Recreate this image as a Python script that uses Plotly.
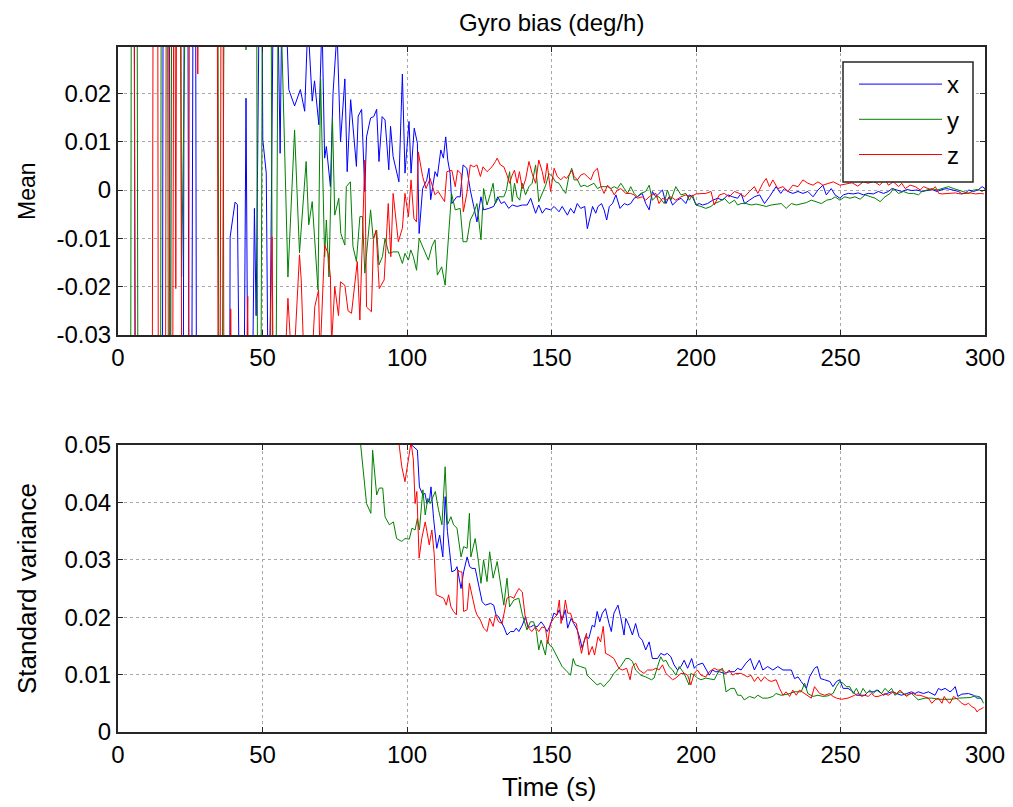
import plotly.graph_objects as go

# ---------------- data ----------------
time_ticks = [0, 50, 100, 150, 200, 250, 300]
mean_ticks = [-0.03, -0.02, -0.01, 0, 0.01, 0.02]
mean_tick_text = ["-0.03", "-0.02", "-0.01", "0", "0.01", "0.02"]
std_ticks = [0, 0.01, 0.02, 0.03, 0.04, 0.05]
std_tick_text = ["0", "0.01", "0.02", "0.03", "0.04", "0.05"]

series_names = ["x", "y", "z"]
series_colors = ["#0000FF", "#008000", "#FF0000"]

# Mean of gyro bias, x axis: (time s, value deg/h)
mean_x = [
    (1, 0.5), (3, 0.3), (5, 0.2), (7, -0.3), (9, -0.4), (11, -0.3), (13, -0.25), (15, -0.2),
    (16, 0.2), (17.5, 0.15), (18.5, -0.2), (20, -0.15), (22, -0.2), (23.5, 0.2), (25, -0.15),
    (26.5, 0.15), (27.5, -0.15), (30, -0.2), (32, -0.15), (34, -0.2), (36, -0.15), (38.3, -0.12),
    (38.8, -0.0097), (40.5, -0.0025), (41.3, -0.003), (43, -0.1), (44.3, 0.019), (45.5, -0.1),
    (47.2, -0.0038), (47.8, -0.026), (49.5, 0.08), (50.1, 0.0104), (51.3, 0.0035), (52.2, -0.06),
    (54, 0.06), (55, 0.05), (56.1, 0.0076), (56.8, 0.045), (58, 0.04), (59.1, 0.0208),
    (61.1, 0.0174), (63.1, 0.0208), (64.6, 0.0163), (65.7, 0.035), (67.2, 0.0184), (68, 0.0226),
    (69.5, 0.0135), (70.6, 0.035), (71.5, 0.0066), (72.1, 0.009), (73.5, 0.0007), (74.4, 0.02),
    (75.8, 0.033), (77, 0.01), (78.5, 0.023), (79.3, 0.0038), (80.5, 0.0187), (82.5, 0.0049),
    (83.1, 0.0153), (84.3, 0.0167), (85.4, -0.0003), (86, 0.011), (87.4, 0.0149), (88.5, 0.0152),
    (89.5, 0.0167), (90.3, 0.0059), (91.4, 0.0152), (92.4, 0.0145), (93.7, 0.0042), (94.3, 0.0132),
    (95.2, 0.0069), (97.2, 0.0017), (98.4, 0.024), (99.3, 0.0035), (100.7, 0.0142), (101.4, 0.0035),
    (102.5, 0.0128), (103.6, 0.0097), (104.2, -0.009), (105.4, 0.0003), (106.8, 0.002),
    (107.6, 0.0045), (108.2, -0.002), (109.7, 0.0038), (110.5, 0.0028), (111.7, 0.0083),
    (112.6, 0.0066), (113.4, 0.011), (114.1, 0.0062), (114.9, 0.0035), (115.5, -0.0028),
    (117.2, -0.0014), (118.4, -0.0014), (119.4, 0.0052), (120.7, 0.0045), (121.9, 0.0),
    (123.1, -0.0034), (124.2, -0.0066), (125.6, -0.0014), (126.5, -0.0041), (128.3, -0.0038),
    (130, -0.0034), (131.4, -0.0014), (132.6, -0.0028), (133.7, -0.0024), (135.2, -0.0038),
    (136.4, -0.0031), (138.1, -0.0034), (139.9, -0.0031), (141.6, -0.0031), (142.8, -0.0017),
    (144.5, -0.0048), (145.6, -0.0031), (146.8, -0.0048), (148, -0.0038), (149.7, -0.0041),
    (150.9, -0.0034), (152.6, -0.0045), (153.7, -0.0034), (155.5, -0.0052), (156.6, -0.0038),
    (157.8, -0.0048), (158.9, -0.0028), (160.1, -0.0038), (161.5, -0.0034), (162.4, -0.008),
    (164.2, -0.0034), (165.3, -0.0048), (166.1, -0.0034), (167.3, -0.0028), (168.2, -0.0041),
    (169.1, -0.0062), (170, -0.0034), (171.1, -0.0028), (172.3, -0.001), (173.7, -0.0038),
    (175.2, -0.0028), (176.3, -0.0031), (177.4, -0.0028), (178.6, -0.0017), (179.7, -0.0014),
    (181.4, -0.0007), (182.6, -0.0028), (183.8, -0.0041), (184.9, -0.0003), (186.1, -0.0014),
    (187.2, -0.0007), (188.4, 0.0), (189.6, -0.0028), (190.7, -0.0014), (191.9, -0.0031),
    (193.6, -0.0021), (194.8, -0.0017), (196.5, -0.0028), (197.7, -0.001), (198.8, -0.0014),
    (200, -0.0031), (201.1, -0.0028), (202.3, -0.0031), (204, -0.0028), (205.8, -0.0021),
    (207.5, -0.0017), (209.2, -0.0021), (211, -0.001), (212.7, -0.0014), (214.4, -0.0017),
    (215.6, -0.0007), (216.8, -0.0028), (218.5, -0.0021), (220.2, -0.0014), (222, -0.001),
    (223.7, -0.0028), (225.4, -0.0014), (226.6, -0.0003), (227.7, 0.0007), (229.3, -0.0007),
    (230.6, 0.0003), (231.8, -0.0003), (233.5, -0.0007), (235.3, -0.0003), (237, -0.0007),
    (238.7, -0.0003), (240.5, -0.0014), (242.2, 0.0), (243.9, 0.001), (245.1, -0.001),
    (246.8, 0.0003), (248.1, -0.001), (249.8, -0.0017), (251, -0.001), (252.7, -0.0007),
    (254.4, -0.0008), (256.2, -0.0006), (257.9, -0.001), (259.6, -0.0007), (261.4, -0.0008),
    (263.1, -0.0003), (264.9, -0.0007), (266.6, -0.0003), (267.8, 0.0003), (269.5, 0.0),
    (271.2, -0.0003), (273, 0.0001), (274.7, -0.0001), (276.4, 0.0), (278.2, -0.0003),
    (279.9, -0.0001), (281.6, 0.0001), (283.4, -0.0003), (285.1, 0.0001), (286.8, 0.0003),
    (288.6, 0.0), (290.9, -0.0003), (292, -0.0008), (293.2, -0.0006), (294.4, 0.0),
    (296.1, -0.0003), (297.8, 0.0001), (299, 0.0007), (300, 0.0003),
]

mean_y = [
    (1, -0.5), (2.5, -0.3), (4, -0.2), (5, 0.2), (6.3, 0.15), (7.5, -0.25), (9, -0.3), (11, -0.25),
    (13, -0.2), (14.5, -0.15), (15.3, 0.2), (16.8, 0.15), (17.8, -0.15), (19, 0.15), (21, 0.12),
    (22, -0.018), (23, 0.15), (25, 0.2), (28, 0.25), (31, 0.2), (34, 0.2), (35.3, -0.15),
    (36.5, 0.0006), (37.5, 0.15), (40, 0.2), (42.5, 0.12), (44.3, 0.029), (46, 0.12), (47.8, 0.1),
    (48.4, -0.08), (49.3, -0.07), (50.2, 0.08), (51.5, 0.09), (52.8, 0.07), (53.6, -0.06),
    (54.6, -0.05), (55.5, 0.05), (56.5, 0.035), (58.8, -0.018), (61.1, 0.0124), (62.8, -0.013),
    (65.1, 0.0059), (66, -0.0072), (67.2, -0.0024), (69.2, -0.0207), (70.1, 0.023),
    (71.5, -0.0138), (72.1, -0.0062), (73, -0.018), (74.2, 0.0148), (75, -0.0052), (76.4, -0.0017),
    (77.1, -0.009), (78.5, -0.0114), (79, 0.0007), (80.4, 0.0017), (81.3, -0.0117), (82.5, -0.0148),
    (83.7, -0.0055), (84.6, -0.0055), (85.4, -0.0172), (86.5, -0.01), (87.4, -0.0041),
    (88.3, -0.01), (89.5, -0.0083), (90.3, -0.0155), (91.5, -0.0138), (92.4, -0.01),
    (93.7, -0.0131), (95.2, -0.0128), (97, -0.0128), (98.4, -0.0152), (99.3, -0.0131),
    (100.5, -0.0145), (101.3, -0.0124), (102.2, -0.0138), (103.3, -0.0166), (104.2, -0.01),
    (105.7, -0.0121), (107.4, -0.0145), (108.6, -0.0117), (109.7, -0.0103), (110.5, -0.0176),
    (112, -0.0159), (113.2, -0.0197), (115.4, -0.0007), (116.7, -0.0041), (118.4, -0.0038),
    (119.4, -0.0107), (120.7, -0.0107), (121.9, -0.0062), (123.1, -0.0048), (124.2, -0.0028),
    (125.6, -0.0103), (126.5, 0.0003), (127.7, -0.0031), (128.9, -0.0007), (129.8, 0.0014),
    (130.6, -0.0028), (131.8, -0.0014), (133.5, -0.0014), (134.4, 0.0), (135.5, 0.0038),
    (136.4, -0.0024), (137.2, 0.0014), (138.1, -0.0014), (139, -0.0021), (139.9, 0.0014),
    (141, -0.001), (142.2, 0.0007), (143.3, 0.0014), (144.5, 0.0052), (145.6, -0.0024),
    (146.8, -0.0007), (148, 0.001), (149.1, 0.0034), (150.3, 0.0028), (151.4, 0.0017),
    (152.6, 0.0014), (153.7, 0.0003), (154.9, -0.0007), (156, 0.0028), (157, 0.0045),
    (157.8, 0.0021), (159, 0.0021), (160.1, 0.0007), (161.3, 0.001), (162.4, 0.0007),
    (163.6, 0.001), (164.7, 0.0014), (165.9, 0.0003), (167.1, 0.0007), (168.2, 0.0007),
    (169.4, 0.0007), (170.5, 0.0003), (171.7, 0.0007), (172.8, 0.0003), (174, 0.0014),
    (175.2, 0.0003), (176.3, -0.0007), (177.4, 0.0007), (178.6, -0.0007), (179.7, -0.0014),
    (180.9, -0.0007), (182.6, -0.0003), (183.8, 0.001), (184.9, -0.0021), (186.1, -0.0014),
    (187.2, -0.0014), (189, -0.0028), (190.1, 0.0), (191.3, -0.0021), (193, 0.0007),
    (194.8, -0.001), (196.5, -0.0007), (197.7, -0.0021), (198.8, -0.001), (200, -0.0031),
    (201.7, -0.0034), (203.4, -0.0038), (205.2, -0.0034), (206.3, -0.0028), (208.1, -0.0024),
    (209.8, -0.0017), (211.5, -0.0028), (213.3, -0.0021), (214.4, -0.0031), (215.6, -0.0028),
    (217.3, -0.0028), (219.1, -0.0031), (220.8, -0.0029), (222.6, -0.0031), (224.3, -0.0034),
    (226, -0.0031), (227.7, -0.0029), (229.5, -0.0028), (231.2, -0.0038), (233, -0.0028),
    (234.7, -0.0031), (236.4, -0.0028), (238.2, -0.0026), (239.9, -0.0021), (241.6, -0.0024),
    (243.4, -0.0028), (245.2, -0.0021), (246.9, -0.0019), (248.1, -0.0014), (249.8, -0.0021),
    (251.5, -0.0014), (253.3, -0.0017), (255, -0.0014), (256.8, -0.0019), (258.5, -0.001),
    (260.2, -0.0014), (262, -0.0017), (263.7, -0.0024), (265.4, -0.0014), (267.2, -0.0007),
    (268.3, 0.0003), (270.1, -0.0007), (271.8, -0.0003), (273.5, -0.0007), (275.3, -0.0007),
    (277, -0.001), (278.2, -0.0003), (279.9, 0.0), (281.6, 0.0003), (283.4, 0.0),
    (285.1, 0.0003), (287.4, 0.0007), (289.2, 0.0003), (290.9, 0.0), (292.6, -0.0003),
    (294.4, -0.0007), (296.1, 0.0), (297.8, 0.0001), (299, -0.0003), (300, 0.0001),
]

mean_z = [
    (1, 0.5), (3, 0.3), (5, 0.2), (6.5, -0.2), (8, -0.3), (10, -0.25), (11.5, -0.15), (12.5, 0.15),
    (13.5, 0.15), (14.2, -0.15), (16, -0.2), (17, 0.15), (18.5, -0.15), (19.5, 0.1), (20, -0.0204),
    (20.5, 0.1), (21.5, 0.15), (22.3, -0.15), (24, -0.2), (25, 0.15), (26.5, 0.2), (27.6, 0.024),
    (28.5, 0.2), (30, 0.25), (32, 0.2), (34, 0.15), (35, -0.15), (36, 0.15), (37, -0.15),
    (38, -0.1), (39, -0.0246), (39.7, -0.1), (41, -0.15), (43, -0.1), (44.9, -0.022),
    (45.5, -0.1), (47, -0.12), (49, -0.1), (51, -0.08), (53.3, -0.0097), (54, -0.06),
    (56, -0.06), (58.8, -0.0224), (60.5, -0.04), (62.8, -0.0134), (63.4, -0.0186), (64.6, -0.04),
    (66.7, -0.04), (68.1, -0.0241), (69.4, -0.0207), (69.9, -0.035), (71.5, -0.0114),
    (72.7, -0.0131), (73.5, -0.018), (73.9, -0.032), (75, -0.02), (76.3, -0.026), (77, -0.019),
    (78.5, -0.0197), (79.6, -0.025), (80.8, -0.0255), (82.8, -0.0148), (83.7, -0.0269),
    (85.4, 0.0062), (86, -0.0242), (87.7, -0.0252), (88.4, -0.0103), (89.3, -0.0083),
    (90.4, -0.0204), (92.1, -0.0186), (93.5, -0.0028), (94.4, -0.0138), (95.2, -0.0007),
    (97, -0.0107), (98.4, -0.0079), (99.3, -0.0007), (100.5, -0.0055), (101.4, 0.0021),
    (102.4, -0.0059), (103.3, -0.0066), (103.9, 0.0079), (105.4, 0.0028), (106.6, 0.0003),
    (108, 0.0024), (109.7, -0.001), (110.8, -0.0003), (111.9, -0.0014), (113, -0.0024),
    (113.8, 0.0038), (115.5, 0.0041), (116.7, 0.0007), (117.5, 0.0041), (118.7, 0.0034),
    (119.5, -0.0045), (120.7, -0.0007), (121.9, 0.0052), (123.1, 0.0048), (124.2, 0.0052),
    (125.4, 0.0028), (126.3, 0.0048), (127.7, 0.0038), (129.4, 0.0048), (130.6, 0.0059),
    (131.2, 0.0066), (132.3, 0.0052), (133.5, 0.0048), (134.6, 0.0031), (135.5, 0.0014),
    (136.4, 0.0031), (137.2, 0.0041), (138.1, 0.0014), (138.9, 0.0038), (139.9, 0.0003),
    (141, 0.0021), (142.2, 0.0059), (143.3, 0.0034), (144.5, 0.0014), (145.6, 0.0062),
    (146.8, 0.0038), (147.6, 0.0014), (148.5, 0.0055), (149.7, -0.0003), (150.9, 0.0045),
    (152, 0.0028), (153.2, 0.0021), (154.3, 0.0028), (155.2, 0.0024), (156, 0.0031),
    (157.2, 0.0041), (157.8, 0.0028), (159, 0.0021), (160.1, 0.0031), (161.3, 0.0034),
    (162.4, 0.0028), (163.6, 0.0021), (164.7, 0.0038), (165.9, 0.0045), (167.1, 0.0007),
    (168.2, -0.0007), (169.4, 0.001), (170.5, 0.0003), (171.7, -0.001), (172.8, 0.0),
    (174, 0.0003), (175.7, -0.0007), (177.4, -0.0007), (178.6, -0.001), (179.7, -0.0017),
    (181.4, -0.0014), (182.6, -0.0021), (183.8, -0.0014), (184.9, -0.001), (186.1, -0.0007),
    (187.2, -0.0028), (188.4, -0.0017), (189.6, -0.0021), (191.3, -0.0014), (193, -0.0021),
    (194.8, -0.0014), (196.5, -0.001), (198.2, -0.0014), (200, -0.0008), (201.7, -0.0008),
    (203.4, -0.0007), (205.2, -0.0003), (206.3, -0.0031), (208.1, -0.001), (209.8, -0.0007),
    (211.5, -0.0014), (213.3, -0.0003), (215, -0.0007), (216.8, -0.0014), (218.5, -0.0003),
    (220.2, 0.0007), (221.4, -0.0007), (223.1, 0.0014), (224.3, 0.0024), (225.4, 0.0007),
    (226.6, 0.0021), (228.3, 0.0003), (230.1, 0.0007), (231.8, -0.0003), (233.5, 0.001),
    (235.3, 0.0007), (237, 0.0021), (238.7, 0.0014), (240.5, 0.001), (242.2, 0.0017),
    (243.9, 0.001), (245.7, 0.0014), (247.5, 0.0017), (249.8, 0.001), (252, 0.0012),
    (254, 0.0015), (256, 0.0008), (257.9, 0.0017), (259.6, 0.0014), (261.5, 0.0018),
    (263.5, 0.001), (265.4, 0.0021), (266.6, 0.001), (268.3, 0.0017), (270.1, 0.0007),
    (271.2, 0.0014), (272.4, 0.0003), (274.1, 0.001), (275.9, 0.0007), (277.6, 0.0),
    (278.7, 0.0007), (280.5, 0.0003), (281.6, 0.0), (282.8, 0.0007), (284, -0.0007),
    (285.1, -0.0008), (287.4, -0.0007), (289.7, -0.0006), (291.5, -0.0008), (293.2, -0.0007),
    (294.9, -0.0006), (296.7, -0.0008), (298.4, -0.0007), (299.6, -0.0008),
]

# Standard deviation of gyro bias
std_x = [
    (90, 0.08), (99.3, 0.051), (100.5, 0.0505), (102.2, 0.0497), (103.6, 0.0491), (104.3, 0.0427),
    (105.5, 0.0413), (106.2, 0.0416), (106.9, 0.0398), (107.8, 0.0404), (108.3, 0.0427),
    (109.2, 0.0372), (110.3, 0.032), (111.3, 0.0343), (112.4, 0.0305), (113.2, 0.041),
    (114, 0.0349), (115.5, 0.0279), (116.7, 0.0282), (117.3, 0.0288), (118.7, 0.025),
    (119.6, 0.0279), (120.8, 0.0305), (121.7, 0.0288), (122.5, 0.0285), (123.6, 0.0285),
    (124.8, 0.0253), (126, 0.0227), (127.1, 0.0221), (128.9, 0.0224), (130, 0.0221),
    (130.8, 0.0204), (131.7, 0.0201), (132.9, 0.0189), (133.5, 0.0183), (134.6, 0.0169),
    (135.8, 0.0175), (137, 0.0175), (137.8, 0.0181), (138.7, 0.0175), (139.9, 0.0186),
    (141, 0.0201), (141.8, 0.0183), (142.7, 0.0183), (143.8, 0.0186), (145, 0.0183),
    (146.4, 0.0192), (147.3, 0.0186), (148.5, 0.0175), (149.6, 0.0186), (150.8, 0.0207),
    (151.9, 0.0204), (152.7, 0.0213), (153.7, 0.0195), (154.8, 0.0213), (155.6, 0.0181),
    (156.8, 0.0198), (157.7, 0.0189), (158.9, 0.0178), (160, 0.016), (160.6, 0.0146),
    (161.8, 0.0166), (162.9, 0.0163), (164.1, 0.0186), (164.9, 0.0183), (165.8, 0.021),
    (166.7, 0.0192), (167.6, 0.0207), (168.7, 0.0215), (169.9, 0.0189), (170.7, 0.0175),
    (171.6, 0.0207), (173, 0.0221), (173.9, 0.0201), (175.1, 0.0169), (175.7, 0.0198),
    (176.8, 0.0186), (178, 0.0169), (179.1, 0.0189), (180.3, 0.0166), (181.4, 0.016),
    (182.6, 0.0143), (183.8, 0.0157), (184.9, 0.0128), (186.7, 0.0128), (187.8, 0.0137),
    (189, 0.0134), (190.1, 0.0137), (191.3, 0.0131), (192.4, 0.0117), (193.6, 0.0108),
    (194.8, 0.0114), (195.9, 0.0125), (197.1, 0.0111), (198.5, 0.0128), (199.4, 0.0111),
    (200.5, 0.0117), (202.3, 0.012), (203.4, 0.0111), (204.6, 0.0099), (205.7, 0.0108),
    (206.8, 0.0105), (208.1, 0.0105), (209.8, 0.0102), (211.5, 0.0105), (213.3, 0.0105),
    (214.4, 0.0111), (215.6, 0.0108), (217.3, 0.012), (218.8, 0.0128), (220.2, 0.0108),
    (221.9, 0.0125), (223.1, 0.0108), (224.8, 0.0114), (226.6, 0.0108), (228.3, 0.0114),
    (230.1, 0.0108), (231.8, 0.0108), (233, 0.0108), (234.1, 0.0093), (235.3, 0.0096),
    (236.4, 0.0088), (238.2, 0.0076), (239.3, 0.0096), (241, 0.0111), (242, 0.0114),
    (243.1, 0.0093), (244.5, 0.0091), (246.3, 0.0088), (247.4, 0.0079), (248.6, 0.0088),
    (249.7, 0.0091), (250.9, 0.0076), (252.6, 0.0076), (254.4, 0.007), (255.5, 0.0064),
    (256.7, 0.0064), (258.4, 0.0064), (259.6, 0.007), (261.3, 0.007), (263, 0.0073),
    (264.8, 0.0064), (266, 0.0067), (267.7, 0.007), (269.4, 0.0067), (271.1, 0.0064),
    (272.9, 0.0067), (274.6, 0.007), (275.8, 0.0067), (276.9, 0.007), (278.7, 0.0067),
    (280.4, 0.007), (282.7, 0.0064), (283.9, 0.0076), (284.8, 0.0073), (286.2, 0.0076),
    (287.9, 0.007), (288.7, 0.0073), (289.7, 0.0079), (290.6, 0.0062), (292, 0.0066),
    (294.3, 0.0067), (296, 0.0064), (297.2, 0.0059), (298.3, 0.0059), (299.1, 0.0056),
]

std_y = [
    (80, 0.07), (85.5, 0.0427), (86, 0.0398), (87.5, 0.0381), (88.1, 0.0491), (89.5, 0.0413),
    (90.4, 0.0425), (91.6, 0.0425), (92.4, 0.0375), (93.9, 0.0361), (95.3, 0.0366),
    (96.4, 0.0337), (98.2, 0.0332), (99.3, 0.0337), (100.8, 0.0336), (101.7, 0.0355),
    (102.8, 0.0352), (103.6, 0.0372), (104.3, 0.0352), (105.5, 0.0422), (106.3, 0.0378),
    (107.2, 0.0407), (108, 0.0398), (109.8, 0.0419), (110.9, 0.0387), (112.1, 0.0361),
    (113.2, 0.0462), (114, 0.0361), (115.2, 0.0375), (116.1, 0.0361), (117.3, 0.0355),
    (118.7, 0.0305), (119.6, 0.0323), (120.8, 0.032), (121.6, 0.0381), (122.1, 0.0305),
    (123.6, 0.0337), (124.8, 0.0294), (125.6, 0.0259), (126.5, 0.03), (127.7, 0.0262),
    (128.6, 0.0314), (129.8, 0.0268), (131.2, 0.0297), (132.3, 0.0259), (133.5, 0.0221),
    (134.6, 0.0268), (135.5, 0.0218), (137, 0.023), (138.7, 0.0233), (139.9, 0.0205),
    (141.5, 0.0178), (142.7, 0.0192), (143.8, 0.0192), (144.8, 0.0175), (145.6, 0.0143),
    (146.4, 0.016), (147.1, 0.0149), (147.9, 0.0134), (148.5, 0.016), (149.4, 0.0151),
    (150.2, 0.0148), (151.4, 0.0137), (152.5, 0.0125), (153.7, 0.0114), (155.4, 0.0105),
    (156.6, 0.0099), (157.5, 0.0128), (158.3, 0.0117), (160, 0.0114), (161.8, 0.0111),
    (162.3, 0.0099), (164.1, 0.0091), (165.8, 0.0082), (167, 0.0085), (168.1, 0.0079),
    (169.1, 0.0085), (170.2, 0.0091), (171.6, 0.0102), (172.8, 0.0108), (173.9, 0.0114),
    (175.7, 0.0128), (176.8, 0.0128), (178, 0.0123), (179.1, 0.0108), (180.9, 0.0099),
    (182.6, 0.0096), (184.6, 0.0091), (185.5, 0.0094), (186.7, 0.0114), (187.8, 0.0131),
    (188.7, 0.0123), (189.6, 0.0125), (190.7, 0.0114), (191.9, 0.0108), (193, 0.0099),
    (194.2, 0.0114), (195.9, 0.0102), (197.6, 0.0082), (198.2, 0.0102), (199.4, 0.0099),
    (200.5, 0.0094), (201.7, 0.0091), (203.4, 0.0094), (204.6, 0.0093), (206.3, 0.0091),
    (208.1, 0.0108), (209.2, 0.0111), (210.4, 0.007), (212.1, 0.0076), (213.3, 0.0076),
    (214.4, 0.0064), (215.6, 0.0064), (216.7, 0.0056), (218.5, 0.0062), (220.2, 0.0059),
    (221.4, 0.0064), (223.1, 0.0059), (224.8, 0.0059), (226.6, 0.0062), (227.7, 0.0067),
    (229.5, 0.0064), (231.8, 0.0066), (234.1, 0.007), (236.4, 0.007), (237.6, 0.0085),
    (238.7, 0.0067), (240.5, 0.0062), (242.2, 0.0064), (243.9, 0.0062), (245.7, 0.0063),
    (247.4, 0.0067), (248.6, 0.0079), (249.7, 0.0088), (250.9, 0.0085), (252, 0.0079),
    (253.2, 0.0079), (254.4, 0.0067), (255.5, 0.0076), (256.7, 0.0064), (257.8, 0.0076),
    (259, 0.0067), (260.1, 0.0073), (261.3, 0.0067), (262.5, 0.0073), (264.2, 0.0067),
    (265.4, 0.0076), (266.5, 0.007), (267.7, 0.0076), (268.8, 0.0064), (270.6, 0.007),
    (271.7, 0.0067), (272.9, 0.0064), (274.6, 0.0067), (276.9, 0.0056), (279.2, 0.0059),
    (281.6, 0.0059), (283.9, 0.0057), (286.2, 0.0057), (288.5, 0.0057), (290.8, 0.0059),
    (293.1, 0.0059), (294.9, 0.006), (296.6, 0.0063), (298.3, 0.0061), (298.9, 0.0056),
    (299.5, 0.005),
]

std_z = [
    (90, 0.08), (97, 0.0505), (98.2, 0.0462), (99.3, 0.0436), (100.5, 0.0474), (101.4, 0.0505),
    (102.2, 0.0474), (102.8, 0.0398), (103.4, 0.0419), (104.2, 0.0303), (105.1, 0.0337),
    (106.3, 0.0366), (106.9, 0.0349), (107.7, 0.0326), (108.6, 0.0352), (109.4, 0.0311),
    (110.1, 0.0239), (111.5, 0.0236), (112.7, 0.0233), (113.6, 0.0221), (114.4, 0.0239),
    (115.2, 0.0218), (116.1, 0.021), (117.1, 0.0204), (117.6, 0.0282), (118.4, 0.0279),
    (119, 0.0279), (119.6, 0.021), (120.8, 0.0213), (121.6, 0.0259), (122.5, 0.0236),
    (123.6, 0.0213), (124.2, 0.0204), (125.4, 0.0195), (126.5, 0.0181), (127.7, 0.0175),
    (128.6, 0.0198), (129.8, 0.0184), (130.6, 0.0204), (131.7, 0.0192), (132.9, 0.0189),
    (133.7, 0.0207), (134.6, 0.0233), (135.8, 0.0236), (137, 0.0233), (137.5, 0.0239),
    (138.7, 0.025), (139.9, 0.0244), (140.9, 0.0201), (142.1, 0.0181), (143.2, 0.0175),
    (144.4, 0.0183), (145.6, 0.0175), (146.7, 0.0183), (147.9, 0.0181), (148.7, 0.0154),
    (149.6, 0.0189), (150.8, 0.0198), (151.9, 0.0204), (152.7, 0.023), (153.3, 0.0189),
    (154.2, 0.0207), (154.8, 0.023), (155.6, 0.0207), (156.6, 0.0207), (157.5, 0.0192),
    (158.6, 0.0189), (159.5, 0.016), (160.4, 0.0137), (161.2, 0.0157), (162.1, 0.0172),
    (162.9, 0.0134), (164.1, 0.0149), (164.9, 0.0134), (166.1, 0.0166), (167, 0.0157),
    (167.9, 0.0184), (168.7, 0.0137), (169.9, 0.0134), (171.6, 0.0128), (173.3, 0.0111),
    (174.5, 0.0108), (176, 0.0111), (177.2, 0.0091), (178, 0.0114), (179.1, 0.012),
    (180.3, 0.0108), (182, 0.0102), (183.2, 0.0108), (184.9, 0.0108), (186.1, 0.0111),
    (187.2, 0.0108), (188.4, 0.0117), (189.6, 0.0102), (190.7, 0.0096), (191.9, 0.0091),
    (193, 0.0094), (194.8, 0.0102), (196, 0.0102), (197.1, 0.0099), (198.2, 0.0082),
    (199.4, 0.0102), (200.5, 0.0108), (201.7, 0.0099), (203.4, 0.0096), (204.6, 0.0105),
    (206.3, 0.0111), (207.5, 0.0108), (209.2, 0.0108), (210.4, 0.0102), (211.5, 0.0108),
    (212.7, 0.0099), (213.8, 0.0102), (215.6, 0.0102), (216.7, 0.0099), (217.9, 0.0096),
    (219, 0.0099), (220.2, 0.0088), (221.4, 0.0096), (222.5, 0.0088), (223.7, 0.0096),
    (224.8, 0.0091), (226, 0.0088), (227.7, 0.0091), (228.9, 0.0076), (230.1, 0.0064),
    (231.2, 0.007), (232.4, 0.0062), (233.5, 0.0073), (234.7, 0.0064), (235.8, 0.0073),
    (237.6, 0.0067), (238.7, 0.0064), (239.9, 0.0059), (241, 0.0079), (242.8, 0.0067),
    (244.5, 0.0064), (246.3, 0.0067), (247.4, 0.0062), (248.6, 0.0059), (250.3, 0.0057),
    (252.6, 0.0059), (254.9, 0.0064), (256.1, 0.0067), (257.3, 0.0062), (258.4, 0.0064),
    (259.6, 0.0062), (260.7, 0.0067), (261.9, 0.0062), (263, 0.0062), (264.2, 0.0064),
    (265.4, 0.0067), (266.5, 0.0064), (268.3, 0.007), (269.4, 0.0067), (270.6, 0.0073),
    (271.7, 0.0067), (272.9, 0.0062), (274, 0.0067), (275.2, 0.0067), (276.3, 0.0064),
    (277.5, 0.0064), (278.7, 0.0062), (280.4, 0.0059), (281.6, 0.005), (282.7, 0.0056),
    (283.9, 0.0059), (285.1, 0.005), (285.9, 0.0062), (287.1, 0.0053), (287.9, 0.005),
    (289.1, 0.0062), (290.8, 0.0056), (292, 0.005), (293.1, 0.0047), (294.3, 0.005),
    (295.5, 0.0044), (296.6, 0.0041), (297.2, 0.0035), (297.8, 0.0038), (298.9, 0.0041),
    (299.5, 0.0043),
]

# ---------------- figure ----------------
FONT = "Arial, Liberation Sans, Helvetica, sans-serif"
W, H = 1013, 807
fig = go.Figure()

mean_series = [mean_x, mean_y, mean_z]
std_series = [std_x, std_y, std_z]

for name, color, pts in zip(series_names, series_colors, mean_series):
    fig.add_trace(go.Scatter(
        x=[p[0] for p in pts], y=[p[1] for p in pts], mode="lines", name=name,
        line=dict(color=color, width=1), xaxis="x", yaxis="y",
        legendgroup=name, showlegend=True))

for name, color, pts in zip(series_names, series_colors, std_series):
    fig.add_trace(go.Scatter(
        x=[p[0] for p in pts], y=[p[1] for p in pts], mode="lines", name=name,
        line=dict(color=color, width=1), xaxis="x2", yaxis="y2",
        legendgroup=name, showlegend=False))

axis_common = dict(
    showline=True, linecolor="#262626", linewidth=2, mirror="ticks",
    ticks="inside", ticklen=5, tickcolor="#262626", tickwidth=1,
    showgrid=True, gridcolor="#a8a8a8", griddash="dot", gridwidth=1,
    zeroline=False, automargin=False,
    tickfont=dict(family=FONT, size=24, color="black"),
)

x_dom = [118 / W, 985 / W]
fig.update_layout(
    width=W, height=H, margin=dict(l=0, r=0, t=0, b=0, autoexpand=False),
    paper_bgcolor="white", plot_bgcolor="white",
    font=dict(family=FONT, color="black"),
    xaxis=dict(domain=x_dom, anchor="y", range=[0, 300], tickvals=time_ticks,
               ticktext=[str(v) for v in time_ticks], **axis_common),
    yaxis=dict(domain=[1 - 335 / H, 1 - 47 / H], anchor="x", range=[-0.03, 0.0296],
               tickvals=mean_ticks, ticktext=mean_tick_text, **axis_common),
    xaxis2=dict(domain=x_dom, anchor="y2", range=[0, 300], tickvals=time_ticks,
                ticktext=[str(v) for v in time_ticks], **axis_common),
    yaxis2=dict(domain=[1 - 732 / H, 1 - 445 / H], anchor="x2", range=[0, 0.05],
                tickvals=std_ticks, ticktext=std_tick_text, **axis_common),
    # legend entries (lines + labels) come from the traces; its frame is drawn as a shape
    legend=dict(x=854 / W, y=1 - 62 / H, xanchor="left", yanchor="top",
                bgcolor="rgba(0,0,0,0)", borderwidth=0,
                font=dict(family=FONT, size=24, color="black"),
                tracegroupgap=1, itemwidth=83),
    shapes=[
        dict(type="rect", xref="paper", yref="paper", layer="above",
             x0=843 / W, x1=973 / W, y0=1 - 182 / H, y1=1 - 62 / H,
             fillcolor="white", line=dict(color="#262626", width=1.5)),
    ],
    annotations=[
        dict(text="Gyro bias (deg/h)", x=551.5 / W, y=1 - 22 / H, xref="paper", yref="paper",
             showarrow=False, xanchor="center", yanchor="middle",
             font=dict(family=FONT, size=24, color="black")),
        dict(text="Mean", x=27 / W, y=1 - 191 / H, xref="paper", yref="paper",
             showarrow=False, xanchor="center", yanchor="middle", textangle=-90,
             font=dict(family=FONT, size=23, color="black")),
        dict(text="Standard variance", x=27 / W, y=1 - 589 / H, xref="paper", yref="paper",
             showarrow=False, xanchor="center", yanchor="middle", textangle=-90,
             font=dict(family=FONT, size=26, color="black")),
        dict(text="Time (s)", x=549 / W, y=1 - 787 / H, xref="paper", yref="paper",
             showarrow=False, xanchor="center", yanchor="middle",
             font=dict(family=FONT, size=26, color="black")),
    ],
)

fig.write_html("out.html")
